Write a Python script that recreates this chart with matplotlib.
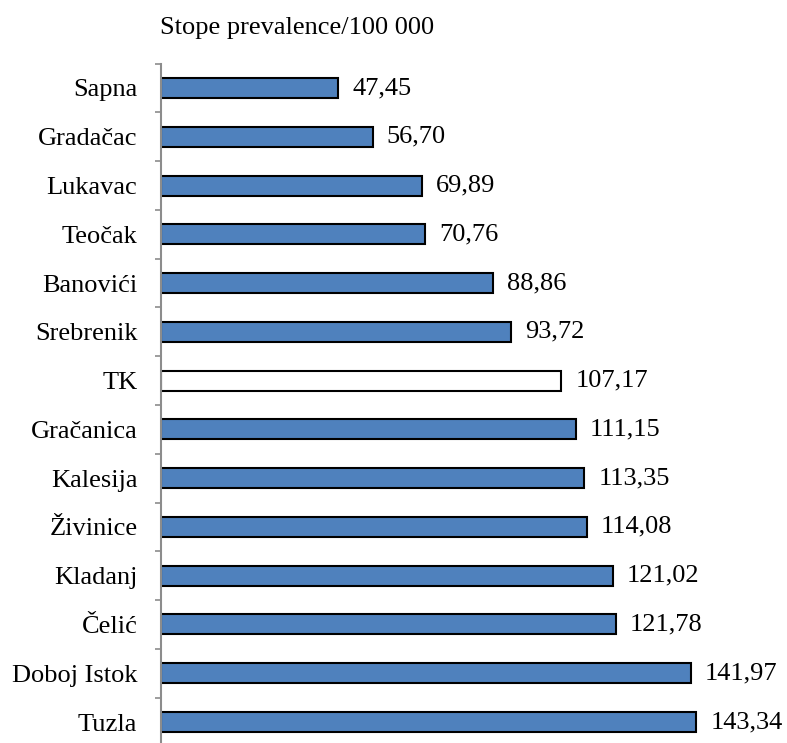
import matplotlib.pyplot as plt
import numpy as np

plt.rcParams['font.family'] = ['Liberation Serif', 'DejaVu Serif']

opcine = ["Sapna", "Gradačac", "Lukavac", "Teočak", "Banovići", "Srebrenik", "TK",
          "Gračanica", "Kalesija", "Živinice", "Kladanj", "Čelić", "Doboj Istok", "Tuzla"]
stope = [47.45, 56.70, 69.89, 70.76, 88.86, 93.72, 107.17,
         111.15, 113.35, 114.08, 121.02, 121.78, 141.97, 143.34]
boje = ["white" if o == "TK" else "#4F81BD" for o in opcine]

fig = plt.figure(figsize=(7.87, 7.43), dpi=100)
# axes placed in figure fractions so the spine sits at x=161 px
ax = fig.add_axes([161 / 787, -3.4 / 743, 1 - 161 / 787, (746.4 - 63.6) / 743])

y = np.arange(len(opcine))
ax.barh(y, stope, height=0.41, color=boje, edgecolor="black", linewidth=1.5)
for yi, v in zip(y, stope):
    ax.text(v + 3.8, yi, f"{v:.2f}".replace(".", ","), va="center", ha="left", fontsize=19)

ax.set_xlim(0, 167.7)
ax.set_ylim(len(opcine) - 0.5, -0.5)
ax.set_yticks(y)
ax.set_yticklabels(opcine, fontsize=19)
ax.set_yticks(np.arange(-0.5, len(opcine), 1), minor=True)
ax.tick_params(axis="y", which="major", length=0, pad=17)
ax.tick_params(axis="y", which="minor", length=4.5, width=1.2, color="#8c8c8c")
ax.set_xticks([])
for s in ["top", "right", "bottom"]:
    ax.spines[s].set_visible(False)
ax.spines["left"].set_color("#8c8c8c")
ax.spines["left"].set_linewidth(1.5)

fig.text(160 / 787, 1 - 28 / 743, "Stope prevalence/100 000", fontsize=19, ha="left", va="center")

fig.savefig("out.png", dpi=100)
